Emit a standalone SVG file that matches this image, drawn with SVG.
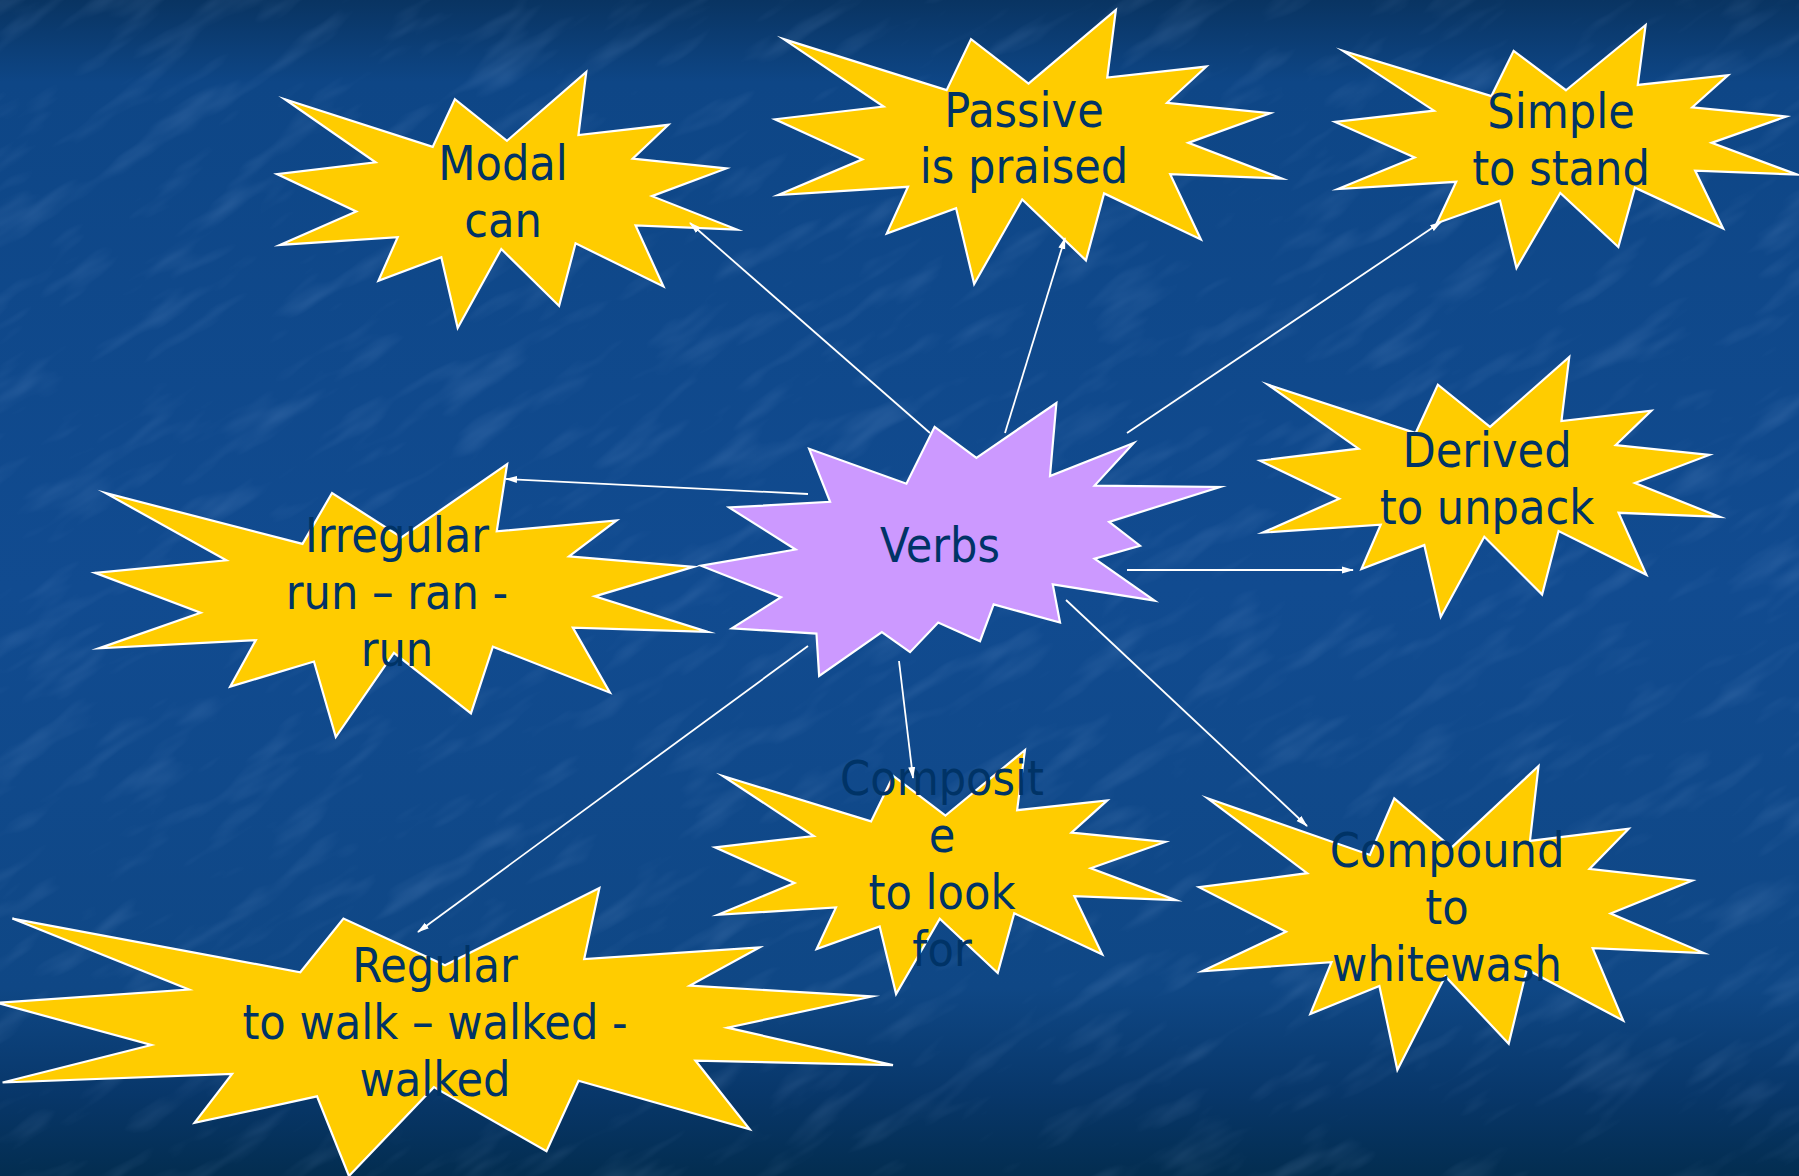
<svg xmlns="http://www.w3.org/2000/svg" xmlns:xlink="http://www.w3.org/1999/xlink" width="1799" height="1176" viewBox="0 0 1799 1176">
<defs>
<linearGradient id="bg" x1="0" y1="0" x2="0" y2="1">
<stop offset="0" stop-color="#093462"/>
<stop offset="0.07" stop-color="#0e4686"/>
<stop offset="0.5" stop-color="#114b90"/>
<stop offset="0.84" stop-color="#0f4785"/>
<stop offset="0.93" stop-color="#08376a"/>
<stop offset="1" stop-color="#032d50"/>
</linearGradient>
<filter id="tex" x="0" y="0" width="100%" height="100%">
<feTurbulence type="fractalNoise" baseFrequency="0.01 0.04" numOctaves="3" seed="7" result="n"/>
<feColorMatrix in="n" type="matrix" values="0 0 0 0 0.45  0 0 0 0 0.65  0 0 0 0 1  0 0 0 1.6 -0.85"/>
</filter>
<path id="seal1" vector-effect="non-scaling-stroke" d="M10800,5800 L14522,0 L14155,5325 L18380,4457 L16702,7315 L21097,8137 L17607,10475 L21600,13290 L16837,12942 L18145,18095 L14020,14457 L13247,19737 L10532,14935 L8485,21600 L7715,15627 L4762,17617 L5667,13937 L135,14587 L3722,11775 L0,8615 L4627,7617 L370,2295 L7312,6320 L8352,2295 Z"/>
<path id="seal2" vector-effect="non-scaling-stroke" d="M11462,4342 L14790,0 L14525,5777 L18007,3172 L16380,6532 L21600,6645 L16985,9402 L18270,11290 L16380,12310 L18877,15632 L14640,14350 L14942,17370 L12180,15935 L11612,18842 L9872,17370 L8700,19712 L7527,18125 L4917,21600 L4805,18240 L1285,17825 L3330,15370 L0,12877 L3935,11592 L1172,8270 L5372,7817 L4502,3625 L8550,6382 L9722,1887 Z"/>
<marker id="arr" viewBox="0 0 12 8" refX="11" refY="4" markerWidth="12" markerHeight="8" markerUnits="userSpaceOnUse" orient="auto">
<path d="M0,0.5 L12,4 L0,7.5 Z" fill="#ffffff"/>
</marker>
</defs>
<style>
.star{fill:#ffcc00;stroke:#ffffff;stroke-width:2.2;stroke-linejoin:miter;stroke-miterlimit:8}
.center{fill:#cc99ff}
.lbl{font-family:"DejaVu Sans Condensed","DejaVu Sans",Verdana,sans-serif;font-stretch:condensed;font-size:48px;fill:#003366;text-anchor:middle}
.con line{stroke:#ffffff;stroke-width:1.8;marker-end:url(#arr)}
</style>
<rect width="1799" height="1176" fill="url(#bg)"/>
<g transform="rotate(-32 900 588)" opacity="0.2">
<rect x="-600" y="-700" width="3000" height="2600" filter="url(#tex)"/>
</g>

<g id="node-modal">
<use xlink:href="#seal1" class="star" transform="translate(277,72) scale(0.021296,0.011852)"/>
<text class="lbl"><tspan x="503" y="180">Modal</tspan><tspan x="503" y="237">can</tspan></text>
</g>
<g id="node-passive">
<use xlink:href="#seal1" class="star" transform="translate(775,10) scale(0.023472,0.012685)"/>
<text class="lbl"><tspan x="1024" y="127">Passive</tspan><tspan x="1024" y="183">is praised</tspan></text>
</g>
<g id="node-simple">
<use xlink:href="#seal1" class="star" transform="translate(1335,25) scale(0.021389,0.01125)"/>
<text class="lbl"><tspan x="1561" y="128">Simple</tspan><tspan x="1561" y="185">to stand</tspan></text>
</g>
<g id="node-derived">
<use xlink:href="#seal1" class="star" transform="translate(1260,357) scale(0.021296,0.012037)"/>
<text class="lbl"><tspan x="1487" y="467">Derived</tspan><tspan x="1487" y="524">to unpack</tspan></text>
</g>
<g id="node-irregular">
<use xlink:href="#seal1" class="star" transform="translate(95,464) scale(0.02838,0.012639)"/>
<text class="lbl"><tspan x="397" y="552">Irregular</tspan><tspan x="397" y="609">run – ran -</tspan><tspan x="397" y="666">run</tspan></text>
</g>
<g id="node-verbs">
<use xlink:href="#seal2" class="star center" transform="translate(701,403) scale(0.024028,0.012639)"/>
<text class="lbl"><tspan x="940" y="562">Verbs</tspan></text>
</g>
<g id="node-regular">
<use xlink:href="#seal1" class="star" transform="translate(-3,888) scale(0.041481,0.013333)"/>
<text class="lbl"><tspan x="435" y="982">Regular</tspan><tspan x="435" y="1039">to walk – walked -</tspan><tspan x="435" y="1096">walked</tspan></text>
</g>
<g id="node-composite">
<use xlink:href="#seal1" class="star" transform="translate(715,750) scale(0.021343,0.011296)"/>
<text class="lbl"><tspan x="942" y="795">Composit</tspan><tspan x="942" y="852">e</tspan><tspan x="942" y="909">to look</tspan><tspan x="942" y="966">for</tspan></text>
</g>
<g id="node-compound">
<use xlink:href="#seal1" class="star" transform="translate(1199,766) scale(0.02338,0.014074)"/>
<text class="lbl"><tspan x="1447" y="867">Compound</tspan><tspan x="1447" y="924">to</tspan><tspan x="1447" y="981">whitewash</tspan></text>
</g>

<g id="connectors" class="con">
<line x1="930" y1="433" x2="690" y2="223"/>
<line x1="1005" y1="433" x2="1065" y2="238"/>
<line x1="1127" y1="433" x2="1441" y2="222"/>
<line x1="808" y1="494" x2="506" y2="479"/>
<line x1="1127" y1="570" x2="1353" y2="570"/>
<line x1="1066" y1="600" x2="1307" y2="826"/>
<line x1="899" y1="661" x2="913" y2="778"/>
<line x1="808" y1="646" x2="418" y2="932"/>
</g>
</svg>
